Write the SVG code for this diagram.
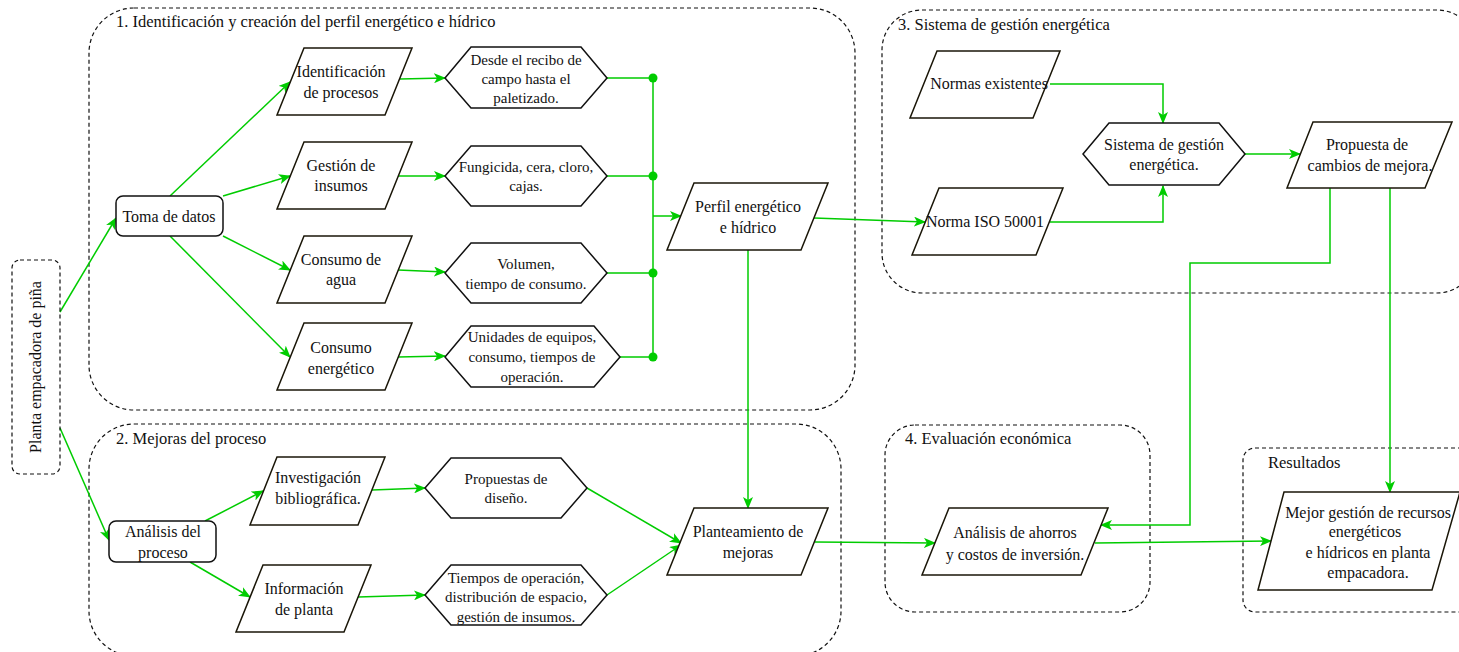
<svg xmlns="http://www.w3.org/2000/svg" width="1459" height="652" viewBox="0 0 1459 652">
  <style>
    text { font-family: "Liberation Serif", "Times New Roman", serif; font-size: 16px; fill: #111; text-anchor: middle; }
    .title { font-size: 16.5px; text-anchor: start; }
    .small { font-size: 15px; }
    .group { fill: none; stroke: #111; stroke-width: 1.2; stroke-dasharray: 4 3; }
    .para { fill: #fff; stroke: #1a1608; stroke-width: 1.5; }
    .hex { fill: #fff; stroke: #111; stroke-width: 1.5; }
    .box { fill: #fff; stroke: #111; stroke-width: 1.5; }
    .link { fill: none; stroke: #00cc00; stroke-width: 1.5; }
    .arrow { marker-end: url(#ah); }
    .dot { fill: #00cc00; }
  </style>
  <defs>
    <marker id="ah" viewBox="0 0 12 10" refX="11" refY="5" markerWidth="12" markerHeight="10" markerUnits="userSpaceOnUse" orient="auto">
      <path d="M0,0 L12,5 L0,10 L3,5 z" fill="#00cc00"/>
    </marker>
  </defs>

  <!-- containers -->
  <g id="containers">
    <rect class="group" x="89" y="8" width="766" height="402" rx="45"/>
    <text class="title" x="116" y="27">1. Identificación y creación del perfil energético e hídrico</text>
    <rect class="group" x="89" y="424" width="752" height="232" rx="45"/>
    <text class="title" x="116" y="444">2. Mejoras del proceso</text>
    <rect class="group" x="882" y="10" width="595" height="283" rx="40"/>
    <text class="title" x="898" y="30">3. Sistema de gestión energética</text>
    <rect class="group" x="885" y="425" width="265" height="187" rx="30"/>
    <text class="title" x="905" y="444">4. Evaluación económica</text>
    <rect class="group" x="1243" y="448" width="235" height="164" rx="12"/>
    <text class="title" x="1268" y="468">Resultados</text>
  </g>

  <!-- connectors -->
  <g id="connectors">
    <path class="link arrow" d="M60,312 L116,218"/>
    <path class="link arrow" d="M60,428 L109,540"/>
    <path class="link arrow" d="M170,196 L290,82"/>
    <path class="link arrow" d="M223,196 L290,176"/>
    <path class="link arrow" d="M223,236 L290,270"/>
    <path class="link arrow" d="M170,236 L290,357"/>
    <path class="link arrow" d="M400,79 L445,78"/>
    <path class="link arrow" d="M398,176 L445,176"/>
    <path class="link arrow" d="M398,270 L445,272"/>
    <path class="link arrow" d="M398,357 L445,356"/>
    <path class="link" d="M607,78 H653 M607,176 H653 M607,273 H653 M620,357 H653 M653,78 V357"/>
    <circle class="dot" cx="653" cy="78" r="4.5"/>
    <circle class="dot" cx="653" cy="176" r="4.5"/>
    <circle class="dot" cx="653" cy="273" r="4.5"/>
    <circle class="dot" cx="653" cy="357" r="4.5"/>
    <path class="link arrow" d="M653,216 H681"/>
    <path class="link arrow" d="M814,218 L925,222"/>
    <path class="link arrow" d="M748,250 V508"/>
    <path class="link arrow" d="M1050,84 H1163 V123"/>
    <path class="link arrow" d="M1050,222 H1163 V186"/>
    <path class="link arrow" d="M1245,154 H1300"/>
    <path class="link arrow" d="M1330,188 V263 H1190 V525 H1101"/>
    <path class="link arrow" d="M1390,188 V492"/>
    <path class="link arrow" d="M815,542 L935,543"/>
    <path class="link arrow" d="M1095,543 L1271,541"/>
    <path class="link arrow" d="M205,521 L263,491"/>
    <path class="link arrow" d="M190,562 L250,597"/>
    <path class="link arrow" d="M372,490 L425,488"/>
    <path class="link arrow" d="M358,597 L425,595"/>
    <path class="link arrow" d="M587,488 L681,543"/>
    <path class="link arrow" d="M607,595 L681,545"/>
  </g>

  <!-- start / process boxes -->
  <g id="planta">
    <rect class="group" x="12" y="260" width="48" height="214" rx="8"/>
    <text transform="translate(41,367) rotate(-90)">Planta empacadora de piña</text>
  </g>
  <g id="toma-datos">
    <rect class="box" x="116" y="196" width="107" height="40" rx="7"/>
    <text x="169" y="222">Toma de datos</text>
  </g>
  <g id="analisis-proceso">
    <rect class="box" x="109" y="521" width="107" height="41" rx="7"/>
    <text x="163" y="537">Análisis del</text>
    <text x="163" y="558">proceso</text>
  </g>

  <!-- stage 1 -->
  <g id="identificacion">
    <polygon class="para" points="304,48 412,48 385,115 277,115"/>
    <text x="341" y="77">Identificación</text>
    <text x="341" y="98">de procesos</text>
  </g>
  <g id="gestion-insumos">
    <polygon class="para" points="304,142 412,142 385,209 277,209"/>
    <text x="341" y="171">Gestión de</text>
    <text x="341" y="191">insumos</text>
  </g>
  <g id="consumo-agua">
    <polygon class="para" points="304,236 412,236 385,303 277,303"/>
    <text x="341" y="265">Consumo de</text>
    <text x="341" y="285">agua</text>
  </g>
  <g id="consumo-energetico">
    <polygon class="para" points="304,323 412,323 385,390 277,390"/>
    <text x="341" y="353">Consumo</text>
    <text x="341" y="374">energético</text>
  </g>
  <g id="desde-recibo">
    <polygon class="hex" points="445,78 471,47 581,47 607,78 581,108 471,108"/>
    <text class="small" x="526" y="65">Desde el recibo de</text>
    <text class="small" x="526" y="84">campo hasta el</text>
    <text class="small" x="526" y="103">paletizado.</text>
  </g>
  <g id="fungicida">
    <polygon class="hex" points="445,176 471,146 581,146 607,176 581,206 471,206"/>
    <text class="small" x="526" y="172">Fungicida, cera, cloro,</text>
    <text class="small" x="526" y="191">cajas.</text>
  </g>
  <g id="volumen">
    <polygon class="hex" points="445,273 471,243 581,243 607,273 581,303 471,303"/>
    <text class="small" x="526" y="269">Volumen,</text>
    <text class="small" x="526" y="289">tiempo de consumo.</text>
  </g>
  <g id="unidades-equipos">
    <polygon class="hex" points="445,357 471,326 594,326 620,357 594,387 471,387"/>
    <text class="small" x="532" y="342">Unidades de equipos,</text>
    <text class="small" x="532" y="362">consumo, tiempos de</text>
    <text class="small" x="532" y="382">operación.</text>
  </g>
  <g id="perfil">
    <polygon class="para" points="694,183 828,183 801,250 667,250"/>
    <text x="748" y="212">Perfil energético</text>
    <text x="748" y="233">e hídrico</text>
  </g>

  <!-- stage 2 -->
  <g id="investigacion">
    <polygon class="para" points="277,457 385,457 358,525 250,525"/>
    <text x="318" y="483">Investigación</text>
    <text x="318" y="504">bibliográfica.</text>
  </g>
  <g id="informacion-planta">
    <polygon class="para" points="263,565 371,565 344,632 236,632"/>
    <text x="304" y="594">Información</text>
    <text x="304" y="615">de planta</text>
  </g>
  <g id="propuestas-diseno">
    <polygon class="hex" points="425,488 451,458 561,458 587,488 561,518 451,518"/>
    <text class="small" x="506" y="484">Propuestas de</text>
    <text class="small" x="506" y="503">diseño.</text>
  </g>
  <g id="tiempos-operacion">
    <polygon class="hex" points="425,595 451,565 581,565 607,595 581,625 451,625"/>
    <text class="small" x="516" y="583">Tiempos de operación,</text>
    <text class="small" x="516" y="602">distribución de espacio,</text>
    <text class="small" x="516" y="622">gestión de insumos.</text>
  </g>
  <g id="planteamiento">
    <polygon class="para" points="694,508 828,508 801,575 667,575"/>
    <text x="748" y="537">Planteamiento de</text>
    <text x="748" y="558">mejoras</text>
  </g>

  <!-- stage 3 -->
  <g id="normas-existentes">
    <polygon class="para" points="937,51 1060,51 1033,118 910,118"/>
    <text x="989" y="89">Normas existentes</text>
  </g>
  <g id="norma-iso">
    <polygon class="para" points="939,188 1063,188 1036,255 912,255"/>
    <text x="985" y="227">Norma ISO 50001</text>
  </g>
  <g id="sistema-gestion">
    <polygon class="hex" points="1083,154 1109,123 1219,123 1245,154 1219,185 1109,185"/>
    <text x="1164" y="150">Sistema de gestión</text>
    <text x="1164" y="170">energética.</text>
  </g>
  <g id="propuesta-cambios">
    <polygon class="para" points="1313,122 1452,122 1425,188 1287,188"/>
    <text x="1367" y="150">Propuesta de</text>
    <text x="1370" y="171">cambios de mejora.</text>
  </g>

  <!-- stage 4 and results -->
  <g id="analisis-ahorros">
    <polygon class="para" points="949,508 1108,508 1081,575 922,575"/>
    <text x="1015" y="538">Análisis de ahorros</text>
    <text x="1015" y="560">y costos de inversión.</text>
  </g>
  <g id="mejor-gestion">
    <polygon class="para" points="1284,492 1460,492 1432,590 1258,590"/>
    <text x="1368" y="518">Mejor gestión de recursos</text>
    <text x="1365" y="537">energéticos</text>
    <text x="1368" y="558">e hídricos en planta</text>
    <text x="1368" y="578">empacadora.</text>
  </g>
</svg>
